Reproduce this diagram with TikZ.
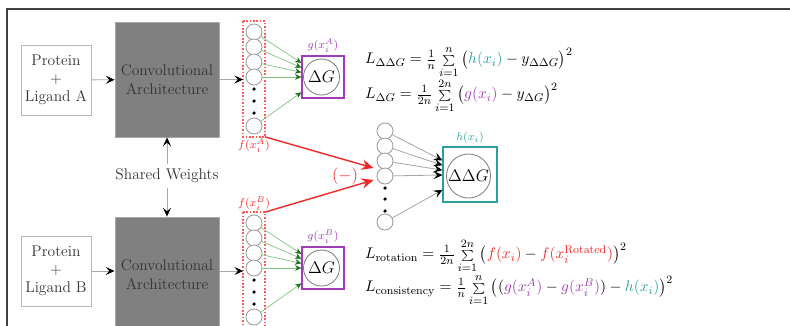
\documentclass[tikz,border=0pt]{standalone}
\usepackage{amsmath}
\usetikzlibrary{arrows.meta, positioning, fit, calc}
\definecolor{cred}{HTML}{F02828}
\definecolor{cpurple}{HTML}{A03CB4}
\definecolor{cteal}{HTML}{2CA0A0}
\definecolor{cgreen}{HTML}{80C480}
\definecolor{cdgreen}{HTML}{1E6E1E}
\definecolor{cgrey}{HTML}{A8A8A8}
\definecolor{cdark}{HTML}{333333}
\newcommand{\smallsum}{\mathop{\scriptstyle\sum}\limits}
\tikzset{
  every picture/.style={line width=0.6pt},
  inbox/.style={draw=cgrey!80, text=cdark, align=center, minimum width=1.75cm, minimum height=1.75cm, inner sep=1pt},
  convbox/.style={draw=cgrey, fill=black!50, text=cdark, align=center, minimum width=2.6cm, minimum height=2.875cm},
  neuron/.style={circle, draw=black!40, fill=white, minimum size=0.4cm, inner sep=0pt},
  dotn/.style={circle, fill=black, minimum size=2.5pt, inner sep=0pt},
  layer/.style={inner sep=0.05cm},
  layerline/.style={draw=red!65, line width=1pt, dash pattern=on 1.2pt off 1.2pt},
  outbox/.style={draw=#1, minimum width=1.05cm, minimum height=1.05cm, line width=0.8pt},
  outcirc/.style={circle, draw=black!50, minimum size=0.9cm, inner sep=0pt, font=\large},
  arrow/.style={-{Stealth[length=2.2mm, width=2mm, inset=0.9mm, color=black]}, draw=cgrey},
  garrow/.style={-{Stealth[length=1.6mm, width=1.4mm, inset=0.5mm, color=cdgreen]}, draw=cgreen, line width=0.5pt},
  rarrow/.style={-{Stealth[length=3mm, width=2.6mm, inset=1mm]}, draw=cred, line width=1pt},
  lbl/.style={font=\footnotesize, inner sep=2pt},
}

\begin{document}
\begin{tikzpicture}[x=0.025cm, y=-0.025cm, font=\fontsize{11}{13}\selectfont]
  \useasboundingbox (0,0) rectangle (790,325);
  \clip (0,0) rectangle (790,325);
  % frame
  \draw[black!75, line width=1.5pt] (7,9) rectangle (820,360);
  % inputs and conv blocks
  \node[inbox] (pA) at (56,80) {Protein\\+\\Ligand A};
  \node[convbox] (cA) at (167,79.5) {Convolutional\\Architecture};
  \node[inbox] (pB) at (56,271) {Protein\\+\\Ligand B};
  \node[convbox] (cB) at (167,274.5) {Convolutional\\Architecture};
  \node[text=cdark] (sw) at (167,176) {Shared Weights};
  \draw[arrow] (pA) -- (cA);
  \draw[arrow] (pB.east) -- (pB.east -| cB.west);
  \draw[arrow] (sw) -- (cA);
  \draw[arrow] (sw) -- (cB);
  % feature layers
  \foreach \i/\y in {1/32, 2/47, 3/62, 4/77, 5/126} {
    \node[neuron] (a\i) at (254,\y) {};
    \node[neuron] (b\i) at (254,\y+191) {};
  }
  \foreach \y in {89,101,113} {
    \node[dotn] (da\y) at (254,\y) {};
    \node[dotn] (db\y) at (254,\y+191) {};
  }
  \node[layer, fit=(a1)(a5)] (fA) {};
  \node[layer, fit=(b1)(b5)] (fB) {};
  \draw[layerline] (fA.north west) rectangle (fA.south east);
  \draw[layerline] (fB.north west) rectangle (fB.south east);
  \node[lbl, text=cred, below=-1pt of fA] (fAl) {$f(x_i^A)$};
  \node[lbl, text=cred, above=-1pt of fB] (fBl) {$f(x_i^B)$};
  \draw[arrow] (cA.east) -- (cA.east -| fA.west);
  \draw[arrow] (pB.east -| cB.east) -- (pB.east -| fB.west);
  % delta G heads
  \node[outbox=cpurple] (gA) at (323,77) {};
  \node[outcirc] (gAc) at (321.5,77) {$\Delta G$};
  \node[lbl, text=cpurple, above=0pt of gA] (gAl) {$g(x_i^A)$};
  \node[outbox=cpurple] (gB) at (323,268) {};
  \node[outcirc] (gBc) at (321.5,268) {$\Delta G$};
  \node[lbl, text=cpurple, above=0pt of gB] (gBl) {$g(x_i^B)$};
  \foreach \i in {1,...,5} {
    \draw[garrow] (a\i) -- (gA);
    \draw[garrow] (b\i) -- (gB);
  }
  % difference network
  \foreach \i/\y in {1/131, 2/146, 3/161, 4/176, 5/222} \node[neuron] (m\i) at (385,\y) {};
  \foreach \y in {188,199,211} \node[dotn] (dm\y) at (385,\y) {};
  \node[outbox=cteal, minimum width=1.35cm, minimum height=1.375cm] (hD) at (470,174.5) {};
  \node[outcirc, minimum size=1.1cm] (hDc) at (468.5,176) {$\Delta\Delta G$};
  \node[lbl, text=cteal, above=0pt of hD] (hDl) {$h(x_i)$};
  \foreach \i in {1,...,5} \draw[arrow] (m\i) -- (hD);
  % subtraction
  \coordinate (inA) at ($(m4.west)+(-3,-8)$);
  \coordinate (inB) at ($(m4.west)+(-3,4)$);
  \draw[rarrow] (fA.south east) -- (inA);
  \draw[rarrow] (fB.north east) -- (inB);
  \node[text=cred, font=\large] (minus) at (345,176) {$(-)$};
  % losses
  \node[anchor=west] (LA1) at (360,62) {$L_{\Delta\Delta G} = \frac{1}{n}\smallsum_{i=1}^{n}\big(\textcolor{cteal}{h(x_i)} - y_{\Delta\Delta G}\big)^2$};
  \node[anchor=west] (LA2) at (360,96) {$L_{\Delta G} = \frac{1}{2n}\smallsum_{i=1}^{2n}\big(\textcolor{cpurple}{g(x_i)} - y_{\Delta G}\big)^2$};
  \node[anchor=west] (LB1) at (360,256) {$L_{\mathrm{rotation}} = \frac{1}{2n}\smallsum_{i=1}^{2n}\big(\textcolor{cred}{f(x_i)} - \textcolor{cred}{f(x_i^{\mathrm{Rotated}})}\big)^2$};
  \node[anchor=west] (LB2) at (360,290) {$L_{\mathrm{consistency}} = \frac{1}{n}\smallsum_{i=1}^{n}\big((\textcolor{cpurple}{g(x_i^A)} - \textcolor{cpurple}{g(x_i^B)}) - \textcolor{cteal}{h(x_i)}\big)^2$};
\end{tikzpicture}
\end{document}
